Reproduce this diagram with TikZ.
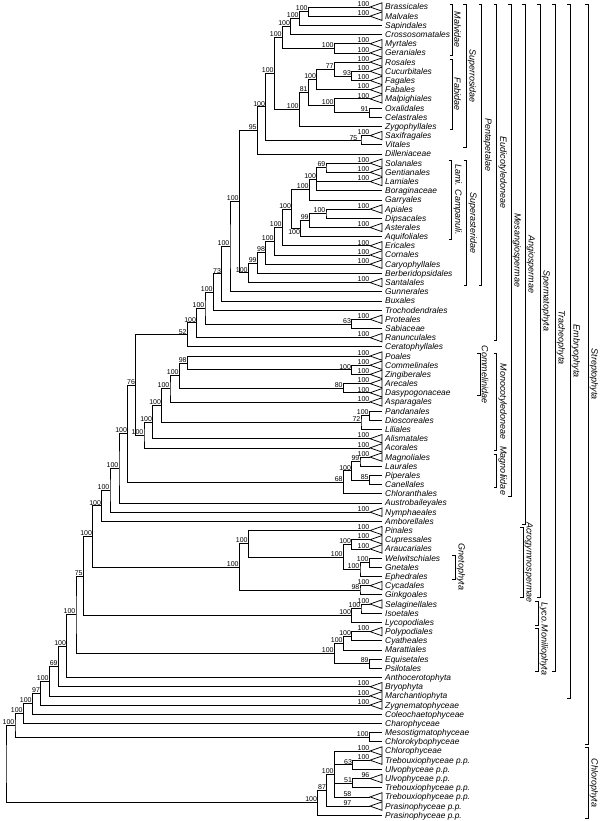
\documentclass[tikz,border=0pt]{standalone}
\usepackage{fontspec}
\setmainfont{Liberation Sans}
\usetikzlibrary{calc}
\newcommand\LT[4]{%
  \coordinate (#1) at (370,{7+(#2-1)*9.185});
  \draw[br] (#1) -- ++(12,4.2) -- ++(0,-8.4) -- cycle;
  \node[leaf] (#1t) at (385,{7+(#2-1)*9.185+3}) {#3};
  \node[sup] (#1s) at (#1) {#4};}
\newcommand\LTn[3]{%
  \coordinate (#1) at (370,{7+(#2-1)*9.185});
  \draw[br] (#1) -- ++(12,4.2) -- ++(0,-8.4) -- cycle;
  \node[leaf] (#1t) at (385,{7+(#2-1)*9.185+3}) {#3};}
\newcommand\LL[3]{%
  \coordinate (#1) at (382,{7+(#2-1)*9.185});
  \node[leaf] (#1t) at (385,{7+(#2-1)*9.185+3}) {#3};}
% clade node: [label options]{name}{x}{first child}{last child}{support}
\newcommand\CL[6][]{%
  \path let \p1=($(#4)!0.5!(#5)$) in (#3pt,\y1) coordinate (#2);
  \draw[br] (#4) -| (#2) |- (#5);
  \node[sup,#1] (#2s) at (#2) {#6};}
% polytomy: [label options]{name}{x}{first}{last}{middle children}{support}
\newcommand\PT[7][]{%
  \path let \p1=($(#4)!0.5!(#5)$) in (#3pt,\y1) coordinate (#2);
  \draw[br] (#4) -| (#2) |- (#5);
  \foreach \m in {#6} {\draw[br] (\m) -- (#2 |- \m);}
  \node[sup,#1] (#2s) at (#2) {#7};}
\newcommand\BR[5]{%
  \draw[br] ({#2-3},#3) -- (#2,#3) -- (#2,#4) -- ({#2-3},#4);
  \node[clade] (#1) at ({#2+0.5},{(#3+#4)/2}) {#5};}
\begin{document}
\begin{tikzpicture}[x=1pt,y=-1pt,
  br/.style={line width=0.75pt},
  sup/.style={anchor=south east,font=\fontsize{7}{7}\selectfont,inner sep=0.5pt},
  leaf/.style={anchor=base west,font=\fontsize{8.4}{8.4}\selectfont\itshape,inner sep=0pt},
  clade/.style={anchor=south,rotate=-90,font=\fontsize{9}{9}\selectfont\itshape,inner sep=1pt}]
\useasboundingbox (0,0) rectangle (600,821);
% leaves
\LT{Bras}{1}{Brassicales}{100}
\LT{Malv}{2}{Malvales}{100}
\LL{Sapi}{3}{Sapindales}
\LL{Cros}{4}{Crossosomatales}
\LT{Myrt}{5}{Myrtales}{100}
\LT{Gera}{6}{Geraniales}{100}
\LT{Rosa}{7}{Rosales}{100}
\LT{Cucu}{8}{Cucurbitales}{100}
\LT{Faga}{9}{Fagales}{100}
\LT{Faba}{10}{Fabales}{100}
\LT{Malp}{11}{Malpighiales}{100}
\LL{Oxal}{12}{Oxalidales}
\LL{Cela}{13}{Celastrales}
\LL{Zygo}{14}{Zygophyllales}
\LT{Saxi}{15}{Saxifragales}{100}
\LL{Vita}{16}{Vitales}
\LL{Dill}{17}{Dilleniaceae}
\LT{Sola}{18}{Solanales}{100}
\LT{Gent}{19}{Gentianales}{100}
\LT{Lami}{20}{Lamiales}{100}
\LL{Bora}{21}{Boraginaceae}
\LL{Garr}{22}{Garryales}
\LT{Apia}{23}{Apiales}{100}
\LL{Dips}{24}{Dipsacales}
\LT{Aste}{25}{Asterales}{100}
\LL{Aqui}{26}{Aquifoliales}
\LT{Eric}{27}{Ericales}{100}
\LT{Corn}{28}{Cornales}{100}
\LT{Cary}{29}{Caryophyllales}{100}
\LL{Berb}{30}{Berberidopsidales}
\LT{Sant}{31}{Santalales}{100}
\LL{Gunn}{32}{Gunnerales}
\LL{Buxa}{33}{Buxales}
\LL{Troc}{34}{Trochodendrales}
\LT{Prot}{35}{Proteales}{100}
\LL{Sabi}{36}{Sabiaceae}
\LT{Ranu}{37}{Ranunculales}{100}
\LL{Cera}{38}{Ceratophyllales}
\LT{Poal}{39}{Poales}{100}
\LT{Comm}{40}{Commelinales}{100}
\LT{Zing}{41}{Zingiberales}{100}
\LT{Arec}{42}{Arecales}{100}
\LT{Dasy}{43}{Dasypogonaceae}{100}
\LT{Aspa}{44}{Asparagales}{100}
\LL{Pand}{45}{Pandanales}
\LL{Dios}{46}{Dioscoreales}
\LL{Lili}{47}{Liliales}
\LT{Alis}{48}{Alismatales}{100}
\LT{Acor}{49}{Acorales}{100}
\LT{Magn}{50}{Magnoliales}{100}
\LL{Laur}{51}{Laurales}
\LL{Pipe}{52}{Piperales}
\LL{Cane}{53}{Canellales}
\LL{Chlo}{54}{Chloranthales}
\LL{Aust}{55}{Austrobaileyales}
\LT{Nymp}{56}{Nymphaeales}{100}
\LL{Ambo}{57}{Amborellales}
\LT{Pina}{58}{Pinales}{100}
\LT{Cupr}{59}{Cupressales}{100}
\LT{Arau}{60}{Araucariales}{100}
\LL{Welw}{61}{Welwitschiales}
\LL{Gnet}{62}{Gnetales}
\LL{Ephe}{63}{Ephedrales}
\LT{Cyca}{64}{Cycadales}{100}
\LL{Gink}{65}{Ginkgoales}
\LT{Sela}{66}{Selaginellales}{100}
\LL{Isoe}{67}{Isoetales}
\LL{Lyco}{68}{Lycopodiales}
\LT{Poly}{69}{Polypodiales}{100}
\LL{Cyat}{70}{Cyatheales}
\LL{Mara}{71}{Marattiales}
\LL{Equi}{72}{Equisetales}
\LL{Psil}{73}{Psilotales}
\LL{Anth}{74}{Anthocerotophyta}
\LT{Bryo}{75}{Bryophyta}{100}
\LT{Marc}{76}{Marchantiophyta}{100}
\LT{Zygn}{77}{Zygnematophyceae}{100}
\LL{Cole}{78}{Coleochaetophyceae}
\LL{Char}{79}{Charophyceae}
\LL{Meso}{80}{Mesostigmatophyceae}
\LL{Chlk}{81}{Chlorokybophyceae}
\LT{Chly}{82}{Chlorophyceae}{100}
\LT{TreA}{83}{Trebouxiophyceae p.p.}{100}
\LL{UlvA}{84}{Ulvophyceae p.p.}
\LT{UlvB}{85}{Ulvophyceae p.p.}{96}
\LL{TreB}{86}{Trebouxiophyceae p.p.}
\LTn{TreC}{87}{Trebouxiophyceae p.p.}
\LTn{PraA}{88}{Prasinophyceae p.p.}
\LL{PraB}{89}{Prasinophyceae p.p.}
\node[sup] (TreCs) at (352,{7+86*9.185}) {58};
\node[sup] (PraAs) at (352,{7+87*9.185}) {97};
% rosids
\CL{nBM}{308.3}{Bras}{Malv}{100}
\CL{nBMS}{299.3}{nBM}{Sapi}{100}
\CL{nBMSC}{290.7}{nBMS}{Cros}{100}
\CL{nMG}{334.3}{Myrt}{Gera}{100}
\CL{nMalv}{282.3}{nBMSC}{nMG}{100}
\CL{nCF}{351.7}{Cucu}{Faga}{93}
\CL{nRCF}{334.3}{Rosa}{nCF}{77}
\CL{nNF}{316.7}{nRCF}{Faba}{100}
\CL{nOC}{369.3}{Oxal}{Cela}{91}
\CL{nCOM}{334.3}{Malp}{nOC}{100}
\CL{nE}{308.3}{nNF}{nCOM}{81}
\CL{nFab}{299.3}{nE}{Zygo}{100}
\CL{nRos}{274.3}{nMalv}{nFab}{100}
\CL[xshift=-3pt,yshift=-1pt]{nSV}{361}{Saxi}{Vita}{75}
\CL{nSR}{265.7}{nRos}{nSV}{100}
\CL{nNF5}{257.3}{nSR}{Dill}{95}
% asterids
\CL{nSG}{326}{Sola}{Gent}{69}
\PT{nSGL}{316.7}{nSG}{Bora}{Lami}{100}
\CL{nLam}{309.3}{nSGL}{Garr}{100}
\CL{nAD}{326}{Apia}{Dips}{100}
\CL{nADA}{309.3}{nAD}{Aste}{99}
\CL[yshift=-7pt]{nCam}{300.7}{nADA}{Aqui}{100}
\CL{nLC}{291.7}{nLam}{nCam}{100}
\CL{nLCE}{282.3}{nLC}{Eric}{100}
\CL{nAst}{274.3}{nLCE}{Corn}{100}
\CL{nCar}{265.7}{nAst}{Cary}{98}
\CL{nBer}{257.3}{nCar}{Berb}{99}
\CL{nSast}{248.3}{nBer}{Sant}{100}
\CL{nPent}{239.3}{nNF5}{nSast}{100}
\CL{nGunn}{230}{nPent}{Gunn}{100}
\CL{nBux}{221.7}{nGunn}{Buxa}{73}
\CL{nTroc}{213.3}{nBux}{Troc}{100}
\CL{nPS}{351.7}{Prot}{Sabi}{63}
\CL{nPSj}{205}{nTroc}{nPS}{100}
\CL{nEud}{196.7}{nPSj}{Ranu}{100}
\CL{nEC}{187.3}{nEud}{Cera}{52}
% monocots
\CL{nCZ}{351.7}{Comm}{Zing}{100}
\CL{nPCZ}{187.3}{Poal}{nCZ}{98}
\CL{nADa}{343.3}{Arec}{Dasy}{80}
\CL{nComm}{179.3}{nPCZ}{nADa}{100}
\CL{nAsp}{170}{nComm}{Aspa}{100}
\CL{nPD}{369.3}{Pand}{Dios}{100}
\CL{nPDL}{361}{nPD}{Lili}{72}
\CL{nPet}{161.7}{nAsp}{nPDL}{100}
\CL{nAli}{152.7}{nPet}{Alis}{100}
\CL{nMono}{144}{nAli}{Acor}{100}
\CL{nSS}{135.7}{nEC}{nMono}{76}
% magnoliids and ANA
\CL{nML}{360}{Magn}{Laur}{99}
\CL{nPC}{369.3}{Pipe}{Cane}{85}
\CL{nMag}{351.7}{nML}{nPC}{100}
\CL{nMagC}{343.3}{nMag}{Chlo}{68}
\CL{nMes}{127.7}{nSS}{nMagC}{100}
\CL{nAus}{119}{nMes}{Aust}{100}
\CL{nNym}{110}{nAus}{Nymp}{100}
\CL{nAng}{101.7}{nNym}{Ambo}{100}
% gymnosperms
\CL{nCA}{351.7}{Cupr}{Arau}{100}
\CL{nWG}{369.3}{Welw}{Gnet}{100}
\CL{nGne}{360}{nWG}{Ephe}{100}
\CL{nCAG}{343.3}{nCA}{nGne}{100}
\CL{nCon}{248.3}{Pina}{nCAG}{100}
\CL{nCG}{360}{Cyca}{Gink}{98}
\CL{nGym}{239.3}{nCon}{nCG}{100}
\CL{nSpe}{92.7}{nAng}{nGym}{100}
% lycophytes, ferns, bryophytes, algae
\CL{nSI}{361}{Sela}{Isoe}{100}
\CL{nLyc}{351.7}{nSI}{Lyco}{100}
\CL{nSL}{83.3}{nSpe}{nLyc}{75}
\CL{nPCy}{351.7}{Poly}{Cyat}{100}
\CL{nPCM}{343.3}{nPCy}{Mara}{100}
\CL{nEP}{369.3}{Equi}{Psil}{89}
\CL{nMon}{334.3}{nPCM}{nEP}{100}
\CL{nTra}{76}{nSL}{nMon}{100}
\CL{nAnt}{66.7}{nTra}{Anth}{100}
\CL{nBry}{58.3}{nAnt}{Bryo}{69}
\CL{nEmb}{49.3}{nBry}{Marc}{100}
\CL{nZyg}{40.7}{nEmb}{Zygn}{97}
\CL{nCol}{32.3}{nZyg}{Cole}{100}
\CL{nCha}{23.3}{nCol}{Char}{100}
\CL{nMC}{369.3}{Meso}{Chlk}{100}
\CL{nStr}{15}{nCha}{nMC}{100}
% chlorophyta
\CL{nTU}{352.7}{TreA}{UlvA}{63}
\CL{nUT}{352.7}{UlvB}{TreB}{51}
\PT{nCore}{334.3}{Chly}{TreC}{nTU,nUT}{100}
\CL{nPr}{326.7}{nCore}{PraA}{87}
\CL{nChl}{317.7}{nPr}{PraB}{100}
\path let \p1=($(nStr)!0.5!(nChl)$) in (6pt,\y1) coordinate (root);
\draw[br] (nStr) -| (root) |- (nChl);
% clade brackets
\BR{cMalv}{452.7}{4}{55.5}{Malvidae}
\BR{cFab}{452.7}{59}{129.4}{Fabidae}
\BR{cLC}{451.7}{160.2}{239.6}{Lami. Campanuli.}
\BR{cSros}{466}{4}{147.8}{Superrosidae}
\BR{cSast}{466.7}{160.2}{285.5}{Superasteridae}
\BR{cPent}{481.7}{4}{285.5}{Pentapetalae}
\BR{cComm}{480}{353}{395.7}{Commelinidae}
\BR{cEud}{496.7}{4}{340.6}{Eudicotyledoneae}
\BR{cMono}{496.7}{353}{450.8}{Monocotyledoneae}
\BR{cMagn}{496.7}{454}{487.5}{Magnoliidae}
\BR{cMes}{511}{4}{496.7}{Mesangiospermae}
\BR{cAng}{525}{4}{524.3}{Angiospermae}
\BR{cGne}{455}{555}{579.4}{Gnetophyta}
\BR{cAcr}{523}{527.4}{597.7}{Acrogymnospermae}
\BR{cSpe}{540}{4}{597.7}{Spermatophyta}
\BR{cLyc}{538}{600.9}{625.3}{Lyco.}
\BR{cMon}{538}{628.4}{671.2}{Moniliophyta}
\BR{cTra}{555}{4}{671.2}{Tracheophyta}
\BR{cEmb}{570}{4}{698.7}{Embryophyta}
\BR{cStr}{588}{4}{744.6}{Streptophyta}
\BR{cChl}{588}{747.8}{818.1}{Chlorophyta}
\end{tikzpicture}
\end{document}
